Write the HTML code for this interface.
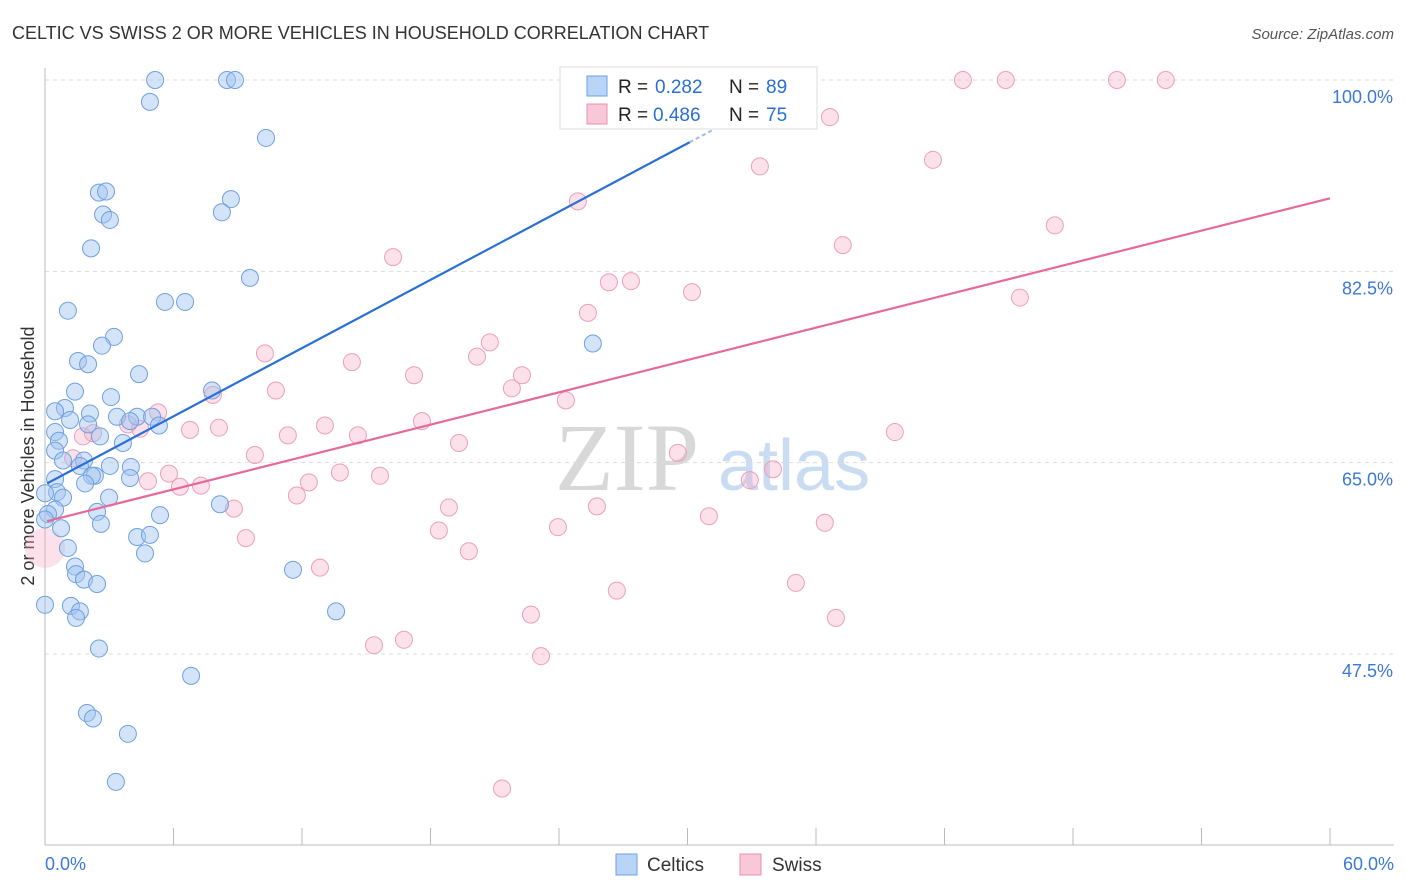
<!DOCTYPE html>
<html><head><meta charset="utf-8"><style>
body{margin:0;background:#fff;font-family:"Liberation Sans",sans-serif;}
svg{display:block}
</style></head><body>
<svg id="chart" width="1406" height="892">
<text x="12" y="39" font-size="18" fill="#333">CELTIC VS SWISS 2 OR MORE VEHICLES IN HOUSEHOLD CORRELATION CHART</text>
<text x="1394" y="39" font-size="15" fill="#555" font-style="italic" text-anchor="end">Source: ZipAtlas.com</text>
<text x="555" y="490" font-size="96" fill="#d8d8d8" font-family="Liberation Serif,serif">ZIP</text>
<text x="718" y="490" font-size="72" fill="#c9dcf2">atlas</text>
<text transform="translate(34,456) rotate(-90)" font-size="18" fill="#333" text-anchor="middle">2 or more Vehicles in Household</text>
<g id="grid"></g><g id="axes"></g><g id="pts"></g><g id="lines"></g>
<g>
<rect x="560" y="67" width="257" height="62" fill="#fff" stroke="#ddd"/>
<rect x="587" y="76" width="20" height="20" fill="#b8d4f6" stroke="#6fa0e0"/>
<rect x="587" y="104" width="20" height="20" fill="#f9c8d8" stroke="#e890b0"/>
<g font-size="19">
<text x="618" y="93" fill="#222">R =</text><text x="655" y="93" fill="#2a6fd6">0.282</text>
<text x="729" y="93" fill="#222">N =</text><text x="766" y="93" fill="#2a6fd6">89</text></g>
<g font-size="19">
<text x="618" y="121" fill="#222">R =</text><text x="653" y="121" fill="#2a6fd6">0.486</text>
<text x="729" y="121" fill="#222">N =</text><text x="766" y="121" fill="#2a6fd6">75</text></g>
</g>
<g>
<rect x="616" y="854" width="21" height="21" fill="#b8d4f6" stroke="#6fa0e0"/>
<text x="647" y="871" font-size="19" fill="#333">Celtics</text>
<rect x="740" y="854" width="21" height="21" fill="#f9c8d8" stroke="#e890b0"/>
<text x="772" y="871" font-size="19" fill="#333">Swiss</text>
</g>
</svg>
<script>
const yTicks=[47.5,65,82.5,100];
const yTickLabels=["47.5%","65.0%","82.5%","100.0%"];
const xTickCount=10;
const xMin=0,xMax=60;
const celticsX=[5.14,8.50,8.87,4.90,10.32,2.52,2.85,8.68,8.26,2.71,3.03,2.15,9.57,5.60,6.54,1.07,3.22,2.66,1.54,2.01,4.39,1.40,7.80,3.08,0.93,0.47,2.10,3.36,4.30,5.00,3.97,2.01,1.17,5.32,0.47,2.57,3.64,0.65,0.47,0.84,1.82,1.63,4.01,3.03,0.47,2.33,2.19,3.97,1.87,0.56,0.84,2.99,0,0.47,2.43,0.14,2.61,0,5.37,8.17,0.75,4.30,4.90,1.07,4.67,11.58,1.40,1.45,1.82,2.43,1.21,1.63,1.45,0,13.59,2.52,6.82,1.96,2.24,3.87,3.31,25.58];
const celticsY=[100,100,100,98.0,94.7,89.7,89.8,89.1,87.9,87.7,87.2,84.6,81.9,79.7,79.7,78.9,76.5,75.7,74.3,74.0,73.1,71.5,71.6,71.0,70.0,69.7,69.5,69.2,69.2,69.2,68.8,68.5,68.9,68.4,67.8,67.4,66.8,67.0,66.1,65.2,65.2,64.7,64.6,64.7,63.5,63.8,63.8,63.6,63.1,62.3,61.8,61.8,62.2,60.7,60.5,60.3,59.4,59.8,60.2,61.2,59.0,58.2,58.4,57.2,56.7,55.2,55.5,54.8,54.3,53.9,51.9,51.4,50.8,52.0,51.4,48.0,45.5,42.1,41.6,40.2,35.8,75.9];
const swissX=[31.84,42.86,44.86,50.05,52.33,36.65,33.38,41.46,24.88,47.15,37.25,16.25,26.33,27.36,30.21,45.52,25.35,20.77,10.27,14.33,20.17,17.23,22.27,10.78,21.80,24.32,7.84,17.60,5.28,3.87,2.24,1.77,4.44,8.12,6.77,13.07,11.34,14.61,19.33,39.68,9.80,5.79,4.81,1.31,13.77,15.64,29.55,32.91,33.99,6.30,7.28,11.76,12.32,8.82,18.86,25.77,31.00,36.41,9.38,18.39,23.95,19.79,12.84,35.06,26.70,22.69,36.93,15.36,16.76,23.16,21.34];
const swissY=[100,100,100,100,100,96.6,92.1,92.7,88.9,86.7,84.9,83.8,81.5,81.6,80.6,80.1,78.7,76.0,75.0,74.2,74.7,73.0,73.0,71.6,71.8,70.7,71.2,68.8,69.6,68.5,67.7,67.4,68.1,68.2,68.0,68.4,67.5,67.5,66.8,67.8,65.7,64.0,63.3,65.4,64.1,63.8,65.9,63.4,64.4,62.8,62.9,62.0,63.2,60.8,60.9,61.0,60.1,59.5,58.1,58.8,59.1,56.9,55.4,54.0,53.3,51.1,50.8,48.3,48.8,47.3,35.2];
const celticsFit=[63.0,1.04];
const swissFit=[59.6,0.493];
const NS="http://www.w3.org/2000/svg";
const L=45,R=1330,T=80,B=654;
function sx(v){return L+(v-xMin)/(xMax-xMin)*(R-L);}
function sy(v){return B-(v-47.5)/(100-47.5)*(B-T);}
function mk(p,tag,a){const e=document.createElementNS(NS,tag);for(const k in a)e.setAttribute(k,a[k]);p.appendChild(e);return e;}
const grid=document.getElementById('grid'),axes=document.getElementById('axes'),pts=document.getElementById('pts'),lines=document.getElementById('lines');
yTicks.forEach((t,i)=>{
 const g=mk(grid,'line',{x1:L,x2:1394,y1:sy(t),y2:sy(t),stroke:'#ddd','stroke-dasharray':'4,4'});
 
 
 const tx=mk(grid,'text',{x:1393,y:sy(t)+23,'font-size':18,fill:'#3b78d8','text-anchor':'end'});
 tx.textContent=yTickLabels[i];
 
 
});
const ya=mk(axes,'line',{x1:L,x2:L,y1:68,y2:845,stroke:'#bbb'});


const xa=mk(axes,'line',{x1:L,x2:1394,y1:845,y2:845,stroke:'#bbb'});


for(let i=0;i<=xTickCount;i++){
 const v=xMin+i*(xMax-xMin)/xTickCount;
 const t=mk(axes,'line',{x1:sx(v),x2:sx(v),y1:828,y2:845,stroke:'#bbb'});
 
 
}
const x0=mk(axes,'text',{x:45,y:870,'font-size':18,fill:'#3b78d8'});x0.textContent='0.0%';


const x1=mk(axes,'text',{x:1394,y:870,'font-size':18,fill:'#3b78d8','text-anchor':'end'});x1.textContent='60.0%';


swissX.forEach((x,i)=>{
 const c=mk(pts,'circle',{cx:sx(x),cy:sy(swissY[i]),r:8.5,fill:'rgba(245,170,195,0.35)',stroke:'#eaa0bb','stroke-width':1});
 
 
});
const big=mk(pts,'circle',{cx:sx(0),cy:sy(57.2),r:20,fill:'rgba(245,170,195,0.35)',stroke:'none'});


celticsX.forEach((x,i)=>{
 const c=mk(pts,'circle',{cx:sx(x),cy:sy(celticsY[i]),r:8.5,fill:'rgba(160,195,240,0.45)',stroke:'#6fa0e0','stroke-width':1});
 
 
});
const bl=mk(lines,'line',{x1:sx(0.1),y1:sy(celticsFit[0]+celticsFit[1]*0.1),x2:sx(30.1),y2:sy(celticsFit[0]+celticsFit[1]*30.1),stroke:'#2a6fd6','stroke-width':2.2});


const bd=mk(lines,'line',{x1:sx(30.1),y1:sy(celticsFit[0]+celticsFit[1]*30.1),x2:sx(32),y2:sy(celticsFit[0]+celticsFit[1]*32),stroke:'#9cbdea','stroke-width':2,'stroke-dasharray':'4,3'});


const pl=mk(lines,'line',{x1:sx(0.1),y1:sy(swissFit[0]+swissFit[1]*0.1),x2:sx(60),y2:sy(swissFit[0]+swissFit[1]*60),stroke:'#e56a98','stroke-width':2.2});


</script>
</body></html>
